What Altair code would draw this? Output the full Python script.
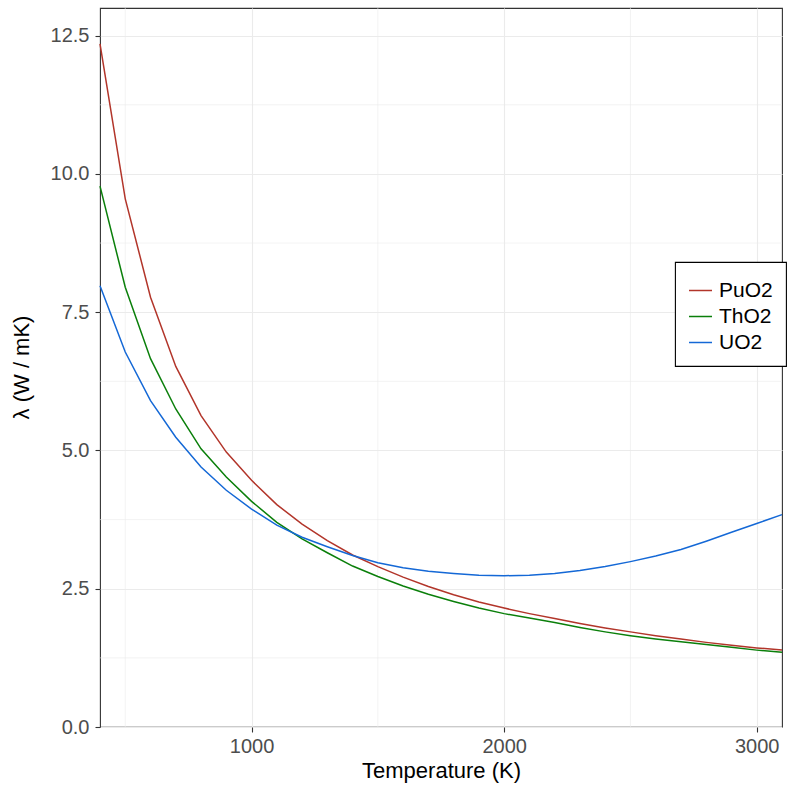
import altair as alt
import pandas as pd

temps = [400, 500, 600, 700, 800, 900, 1000, 1100, 1200, 1300, 1400, 1500, 1600, 1700,
         1800, 1900, 2000, 2100, 2200, 2300, 2400, 2500, 2600, 2700, 2800, 2900, 3000, 3100]

puo2 = [12.35, 9.55, 7.77, 6.52, 5.63, 4.97, 4.46, 4.02, 3.67, 3.37, 3.11, 2.90, 2.71, 2.54,
        2.39, 2.26, 2.15, 2.05, 1.96, 1.87, 1.79, 1.72, 1.65, 1.59, 1.53, 1.48, 1.43, 1.39]
tho2 = [9.78, 7.95, 6.66, 5.75, 5.03, 4.52, 4.08, 3.70, 3.40, 3.15, 2.91, 2.72, 2.55, 2.40,
        2.27, 2.15, 2.05, 1.97, 1.89, 1.80, 1.72, 1.65, 1.59, 1.54, 1.49, 1.44, 1.39, 1.35]
uo2 = [7.98, 6.78, 5.90, 5.24, 4.70, 4.28, 3.94, 3.65, 3.43, 3.26, 3.10, 2.97, 2.88, 2.815,
       2.775, 2.745, 2.735, 2.745, 2.775, 2.83, 2.90, 2.99, 3.09, 3.21, 3.36, 3.52, 3.68, 3.84]

series_names = ["PuO2", "ThO2", "UO2"]
series_colors = ["#B2352A", "#0A7F0A", "#1468D6"]

x_major = [1000, 2000, 3000]
x_minor = [500, 1500, 2500]
y_major = [0.0, 2.5, 5.0, 7.5, 10.0, 12.5]
y_minor = [1.25, 3.75, 6.25, 8.75, 11.25]

rows = []
for name, vals in zip(series_names, [puo2, tho2, uo2]):
    for t, v in zip(temps, vals):
        rows.append({"T": t, "lam": v, "mat": name})
df = pd.DataFrame(rows)

FONT = "Liberation Sans"
xscale = alt.Scale(domain=[400, 3100], nice=False, zero=False)
yscale = alt.Scale(domain=[0, 13.0], nice=False, zero=False)

minor_x = alt.Chart(pd.DataFrame({"v": x_minor})).mark_rule(
    color="#EBEBEB", strokeWidth=0.6
).encode(x=alt.X("v:Q", scale=xscale))

minor_y = alt.Chart(pd.DataFrame({"v": y_minor})).mark_rule(
    color="#EBEBEB", strokeWidth=0.6
).encode(y=alt.Y("v:Q", scale=yscale))

lines = alt.Chart(df).mark_line(strokeWidth=1.5).encode(
    x=alt.X("T:Q", scale=xscale,
            axis=alt.Axis(values=x_major, format="d", title="Temperature (K)",
                          titleY=43, titleBaseline="middle")),
    y=alt.Y("lam:Q", scale=yscale,
            axis=alt.Axis(values=y_major, format=".1f", title="λ (W / mK)",
                          titleX=-79, titleY=359, titleBaseline="middle",
                          titleAlign="center")),
    color=alt.Color("mat:N",
                    scale=alt.Scale(domain=series_names, range=series_colors),
                    legend=alt.Legend(title=" ", orient="none",
                                      legendX=575, legendY=254)),
)

chart = alt.layer(minor_x, minor_y, lines).properties(
    width=682, height=719,
    autosize=alt.AutoSizeParams(type="none"),
    padding={"left": 100, "top": 8, "right": 5, "bottom": 60},
).configure_view(
    stroke="#333333", strokeWidth=1.1
).configure_axis(
    gridColor="#EBEBEB", gridWidth=1.1, domain=False,
    tickColor="#333333", tickSize=5, tickWidth=1.1,
    labelColor="#4D4D4D", labelFont=FONT, labelFontSize=20, labelPadding=4,
    titleColor="#000000", titleFont=FONT, titleFontSize=22, titleFontWeight="normal",
).configure_axisY(
    labelPadding=6
).configure_legend(
    strokeColor="#000000", fillColor="#FFFFFF", padding=13,
    titleFontSize=3, titlePadding=0,
    labelFont=FONT, labelFontSize=21, labelColor="#000000", labelOffset=6,
    symbolType="stroke", symbolSize=529, symbolStrokeWidth=1.5, rowPadding=3,
    cornerRadius=0, strokeWidth=1.1,
)

chart.save("out.html", embed_options={"renderer": "svg", "actions": False})
